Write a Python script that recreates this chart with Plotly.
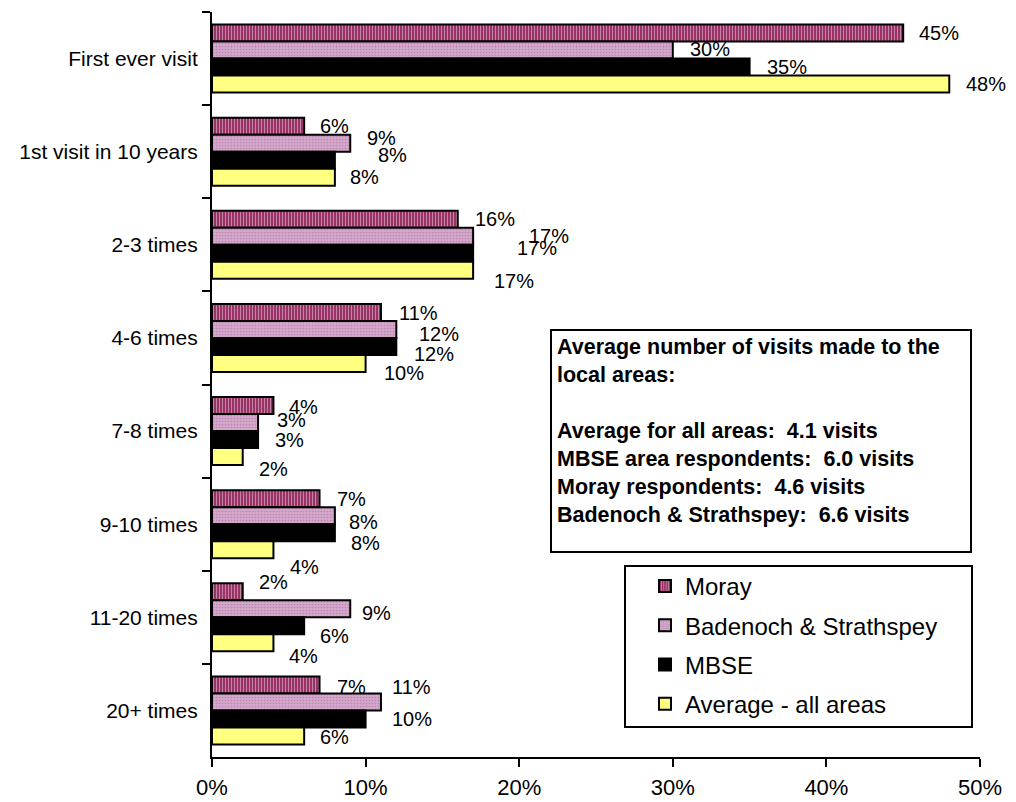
import plotly.graph_objects as go

# ---------------- data ----------------
categories = ["First ever visit", "1st visit in 10 years", "2-3 times", "4-6 times",
              "7-8 times", "9-10 times", "11-20 times", "20+ times"]
moray = [45, 6, 16, 11, 4, 7, 2, 7]
badenoch = [30, 9, 17, 12, 3, 8, 9, 11]
mbse = [35, 8, 17, 12, 3, 8, 6, 10]
average = [48, 8, 17, 10, 2, 4, 4, 6]
series_names = ["Moray", "Badenoch & Strathspey", "MBSE", "Average - all areas"]
x_tick_values = [0, 10, 20, 30, 40, 50]
x_tick_labels = ["0%", "10%", "20%", "30%", "40%", "50%"]
box_lines = [
    "Average number of visits made to the",
    "local areas:",
    "",
    "Average for all areas:&nbsp; 4.1 visits",
    "MBSE area respondents:&nbsp; 6.0 visits",
    "Moray respondents:&nbsp; 4.6 visits",
    "Badenoch &amp; Strathspey:&nbsp; 6.6 visits",
]

# ---------------- label nudges (px, styling only) ----------------
label_dx = [
    [-1, -1, 0, 1, -1, 0, -1, 0],
    [0, 0, 39, 6, 2, -3, -5, -6],
    [0, 26, 27, 1, 0, -1, -1, 9],
    [0, -2, 4, 1, -1, 0, -1, -1],
]
label_dy = [
    [0, 0, 0, 1, 1, 0, -10, 2],
    [-1, -5, 0, 5, -3, 6, 4, -15],
    [0, -5, -5, 8, 0, 10, 10, 0],
    [0, 0, 11, 10, 12, 17, 13, 1],
]

# ---------------- layout geometry ----------------
W, H = 1016, 802
ML, MR, MT, MB = 212, 36, 12, 45
plot_w = W - ML - MR
plot_h = H - MT - MB
BARGAP = 0.27
FONT = "Liberation Sans, Arial, sans-serif"


def px(xp):
    return (xp - ML) / plot_w


def py(yp):
    return 1 - (yp - MT) / plot_h


styles = [
    dict(color="#993366", pattern=dict(shape="|", fgcolor="#f4e4f0", size=3, solidity=0.3)),
    dict(color="#d4a8cc", pattern=dict(shape=".", fgcolor="#a0608e", size=3, solidity=0.25)),
    dict(color="#000000"),
    dict(color="#ffff80"),
]

all_series = [moray, badenoch, mbse, average]

fig = go.Figure()
for i, (name, vals) in enumerate(zip(series_names, all_series)):
    st = styles[i]
    marker = dict(color=st["color"], line=dict(color="black", width=2))
    if "pattern" in st:
        marker["pattern"] = st["pattern"]
    fig.add_trace(go.Bar(
        y=categories, x=vals, orientation="h", name=name,
        legendgroup=name, marker=marker,
    ))

# data labels
band_px = plot_h / len(categories)
slot = band_px * (1 - BARGAP) / len(all_series)
annotations = []
for i, vals in enumerate(all_series):
    for j, v in enumerate(vals):
        annotations.append(dict(
            x=v, y=categories[j], xref="x", yref="y",
            text=f"{v}%", showarrow=False,
            xanchor="left", yanchor="middle",
            xshift=15 + label_dx[i][j],
            yshift=-((i - 1.5) * slot + label_dy[i][j]),
            font=dict(family=FONT, size=20, color="black"),
        ))

# text box
annotations.append(dict(
    x=px(555), y=py(333), xref="paper", yref="paper",
    xanchor="left", yanchor="top", align="left", showarrow=False,
    text="<b>" + "<br>".join(box_lines) + "</b>",
    font=dict(family=FONT, size=21.5, color="black"),
))

shapes = [
    dict(type="rect", xref="paper", yref="paper",
         x0=px(551), x1=px(971), y0=py(552), y1=py(330),
         line=dict(color="black", width=2), fillcolor="white", layer="below"),
    dict(type="rect", xref="paper", yref="paper",
         x0=px(625), x1=px(972), y0=py(727), y1=py(566),
         line=dict(color="black", width=2), fillcolor="white", layer="below"),
]

fig.update_layout(
    width=W, height=H,
    margin=dict(l=ML, r=MR, t=MT, b=MB, pad=0, autoexpand=False),
    paper_bgcolor="white", plot_bgcolor="rgba(0,0,0,0)",
    barmode="group", bargap=BARGAP, bargroupgap=0,
    font=dict(family=FONT, color="black"),
    annotations=annotations,
    shapes=shapes,
    showlegend=True,
    legend=dict(
        x=px(645), y=py(564), xanchor="left", yanchor="top",
        bgcolor="rgba(0,0,0,0)", borderwidth=0,
        font=dict(family=FONT, size=24, color="black"),
        traceorder="grouped", tracegroupgap=5,
    ),
    xaxis=dict(
        range=[0, 50], tickvals=x_tick_values, ticktext=x_tick_labels,
        showline=True, linecolor="black", linewidth=2,
        ticks="outside", ticklen=8, tickwidth=2, tickcolor="black",
        showgrid=False, zeroline=False, automargin=False,
        tickfont=dict(family=FONT, size=22, color="black"),
        ticklabelstandoff=2,
    ),
    yaxis=dict(
        categoryorder="array", categoryarray=categories, autorange="reversed",
        showline=True, linecolor="black", linewidth=2,
        ticks="outside", ticklen=8, tickwidth=2, tickcolor="black",
        tickson="boundaries", showgrid=False, zeroline=False, automargin=False,
        tickfont=dict(family=FONT, size=21, color="black"),
        ticklabelstandoff=8,
    ),
)

fig.write_html("out.html")
